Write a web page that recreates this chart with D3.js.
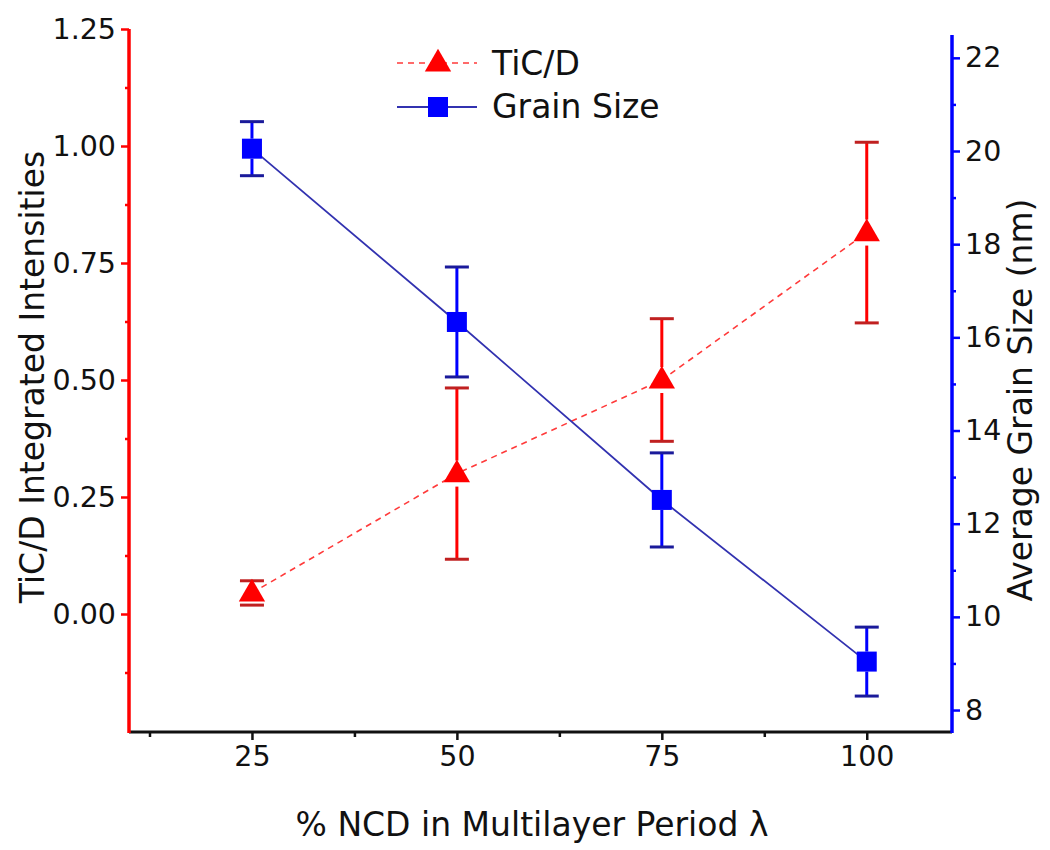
<!DOCTYPE html>
<html><head><meta charset="utf-8">
<script src="https://cdn.jsdelivr.net/npm/d3@7"></script>
<style>body{margin:0;background:#fff}svg{display:block}text{font-family:"DejaVu Sans",Arial,sans-serif;fill:#111}</style>
</head><body><svg id="c" width="1050" height="850"></svg>
<script>
const ncd = [25, 50, 75, 100];
const ticValues = [0.045, 0.30, 0.50, 0.815];
const ticErr = [0.026, 0.183, 0.131, 0.193];
const grainValues = [20.05, 16.33, 12.51, 9.04];
const grainErr = [0.58, 1.18, 1.01, 0.74];
const xTicks = [25, 50, 75, 100];
const xMinor = [12.5, 37.5, 62.5, 87.5];
const yLTicks = [0, 0.25, 0.5, 0.75, 1.0, 1.25];
const yLMinor = [-0.125, 0.125, 0.375, 0.625, 0.875, 1.125];
const yRTicks = [8, 10, 12, 14, 16, 18, 20, 22];
const yRMinor = [9, 11, 13, 15, 17, 19, 21];
const seriesNames = ["TiC/D", "Grain Size"];

const svg = d3.select("#c");
const x = d3.scaleLinear().domain([10, 110.4]).range([129, 952]);
const yL = d3.scaleLinear().domain([-0.25, 1.25]).range([731, 29]);
const yR = d3.scaleLinear().domain([7.55, 22.49]).range([731, 35]);
const RED = "#ff0000", BLUE = "#0000ff";
const FS = 28.5, TFS = 33, LFS = 33;

// bottom axis
const gx = svg.append("g").attr("transform", "translate(0,732)");
gx.call(d3.axisBottom(x).tickValues(xTicks).tickSize(8).tickPadding(6).tickFormat(d3.format("d")));
gx.select(".domain").remove();
gx.selectAll(".tick line").attr("stroke", "#111").attr("stroke-width", 2.5);
gx.selectAll("text").style("font-size", FS + "px").attr("fill", "#111");
gx.append("g").call(d3.axisBottom(x).tickValues(xMinor).tickSize(5).tickFormat(""))
  .call(g => { g.select(".domain").remove(); g.selectAll("line").attr("stroke", "#111").attr("stroke-width", 2.5); });
svg.append("line").attr("x1", 129).attr("x2", 952).attr("y1", 732).attr("y2", 732).attr("stroke", "#111").attr("stroke-width", 3);

// left axis
const gl = svg.append("g").attr("transform", "translate(129,0)");
gl.call(d3.axisLeft(yL).tickValues(yLTicks).tickSize(8).tickPadding(5).tickFormat(d3.format(".2f")));
gl.select(".domain").remove();
gl.selectAll(".tick line").attr("stroke", RED).attr("stroke-width", 2.5);
gl.selectAll("text").style("font-size", FS + "px").attr("fill", "#111");
gl.append("g").call(d3.axisLeft(yL).tickValues(yLMinor).tickSize(4).tickFormat(""))
  .call(g => { g.select(".domain").remove(); g.selectAll("line").attr("stroke", RED).attr("stroke-width", 2.5); });
svg.append("line").attr("x1", 129).attr("x2", 129).attr("y1", yL(1.25)).attr("y2", 733).attr("stroke", RED).attr("stroke-width", 3.5);

// right axis
const gr = svg.append("g").attr("transform", "translate(952,0)");
gr.call(d3.axisRight(yR).tickValues(yRTicks).tickSize(8).tickPadding(5).tickFormat(d3.format("d")));
gr.select(".domain").remove();
gr.selectAll(".tick line").attr("stroke", BLUE).attr("stroke-width", 2.5);
gr.selectAll("text").style("font-size", FS + "px").attr("fill", "#111");
gr.append("g").call(d3.axisRight(yR).tickValues(yRMinor).tickSize(4).tickFormat(""))
  .call(g => { g.select(".domain").remove(); g.selectAll("line").attr("stroke", BLUE).attr("stroke-width", 2.5); });
svg.append("line").attr("x1", 952).attr("x2", 952).attr("y1", 35).attr("y2", 733).attr("stroke", BLUE).attr("stroke-width", 3.5);

// axis titles
svg.append("text").attr("x", 532).attr("y", 836).attr("text-anchor", "middle").style("font-size", TFS + "px").text("% NCD in Multilayer Period λ");
svg.append("text").attr("transform", "translate(44,377) rotate(-90)").attr("text-anchor", "middle").style("font-size", TFS + "px").text("TiC/D Integrated Intensities");
svg.append("text").attr("transform", "translate(1032,400) rotate(-90)").attr("text-anchor", "middle").style("font-size", TFS + "px").text("Average Grain Size (nm)");

// data lines
const ticData = ncd.map((d, i) => ({x: d, v: ticValues[i], e: ticErr[i]}));
const grainData = ncd.map((d, i) => ({x: d, v: grainValues[i], e: grainErr[i]}));
svg.append("path").datum(ticData).attr("fill", "none").attr("stroke", "#ff3a3a").attr("stroke-width", 1.6)
  .attr("stroke-dasharray", "6,5").attr("d", d3.line().x(d => x(d.x)).y(d => yL(d.v)));
svg.append("path").datum(grainData).attr("fill", "none").attr("stroke", "#3232b0").attr("stroke-width", 1.8)
  .attr("d", d3.line().x(d => x(d.x)).y(d => yR(d.v)));

// error bars
function errBars(data, ys, col, capCol, gap) {
  const g = svg.append("g");
  data.forEach(d => {
    const cx = x(d.x), top = ys(d.v + d.e), bot = ys(d.v - d.e), cy = ys(d.v);
    if (cy - gap > top) g.append("line").attr("x1", cx).attr("x2", cx).attr("y1", top).attr("y2", cy - gap).attr("stroke", col).attr("stroke-width", 3);
    if (cy + gap < bot) g.append("line").attr("x1", cx).attr("x2", cx).attr("y1", cy + gap).attr("y2", bot).attr("stroke", col).attr("stroke-width", 3);
    [top, bot].forEach(yy => g.append("line").attr("x1", cx - 12).attr("x2", cx + 12).attr("y1", yy).attr("y2", yy).attr("stroke", capCol).attr("stroke-width", 3));
  });
}
errBars(ticData, yL, RED, "#c02020", 13);
errBars(grainData, yR, BLUE, "#1a1a9a", 10);

// markers
const tri = d3.symbol().type(d3.symbolTriangle).size(300);
svg.append("g").selectAll("path").data(ticData).join("path")
  .attr("d", tri).attr("transform", d => `translate(${x(d.x)},${yL(d.v) + 1})`).attr("fill", RED);
svg.append("g").selectAll("rect").data(grainData).join("rect")
  .attr("x", d => x(d.x) - 10).attr("y", d => yR(d.v) - 10).attr("width", 20).attr("height", 20).attr("fill", BLUE);

// legend
const lg = svg.append("g");
lg.append("line").attr("x1", 397).attr("x2", 477).attr("y1", 63).attr("y2", 63).attr("stroke", "#ff3a3a").attr("stroke-width", 1.6).attr("stroke-dasharray", "6,5");
lg.append("path").attr("d", tri).attr("transform", "translate(438,64)").attr("fill", RED);
lg.append("text").attr("x", 492).attr("y", 75).style("font-size", LFS + "px").text(seriesNames[0]);
lg.append("line").attr("x1", 397).attr("x2", 477).attr("y1", 107).attr("y2", 107).attr("stroke", "#3232b0").attr("stroke-width", 1.8);
lg.append("rect").attr("x", 428).attr("y", 97).attr("width", 20).attr("height", 20).attr("fill", BLUE);
lg.append("text").attr("x", 492).attr("y", 118).style("font-size", LFS + "px").text(seriesNames[1]);
</script></body></html>
